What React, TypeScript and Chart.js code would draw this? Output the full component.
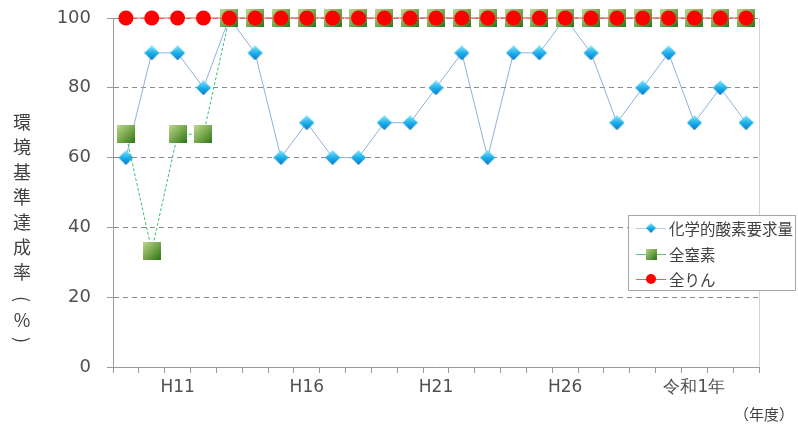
import React, { useEffect, useRef } from "react";
import { Chart, registerables } from "chart.js";

Chart.register(...registerables);

const categories = [
  "H9", "H10", "H11", "H12", "H13", "H14", "H15", "H16", "H17", "H18",
  "H19", "H20", "H21", "H22", "H23", "H24", "H25", "H26", "H27", "H28",
  "H29", "H30", "令和1年", "R2", "R3",
];
const shownTickLabels = ["H11", "H16", "H21", "H26", "令和1年"];
const codValues = [60, 90, 90, 80, 100, 90, 60, 70, 60, 60, 70, 70, 80, 90, 60, 90, 90, 100, 90, 70, 80, 90, 70, 80, 70];
const tnValues = [66.7, 33.3, 66.7, 66.7, 100, 100, 100, 100, 100, 100, 100, 100, 100, 100, 100, 100, 100, 100, 100, 100, 100, 100, 100, 100, 100];
const tpValues = [100, 100, 100, 100, 100, 100, 100, 100, 100, 100, 100, 100, 100, 100, 100, 100, 100, 100, 100, 100, 100, 100, 100, 100, 100];
const seriesNames = ["化学的酸素要求量", "全窒素", "全りん"];
const yTitleChars = ["環", "境", "基", "準", "達", "成", "率", "(", "%", ")"];
const xTitle = "（年度）";

function makeSquare(size: number) {
  const c = document.createElement("canvas");
  c.width = size;
  c.height = size;
  const g = c.getContext("2d")!;
  const grad = g.createLinearGradient(0, 0, size, size);
  grad.addColorStop(0, "#bcd88e");
  grad.addColorStop(0.5, "#7aa84e");
  grad.addColorStop(1, "#2a7418");
  g.fillStyle = grad;
  g.fillRect(0, 0, size, size);
  return c;
}

function makeDiamond(size: number) {
  const c = document.createElement("canvas");
  c.width = size;
  c.height = size;
  const g = c.getContext("2d")!;
  const grad = g.createLinearGradient(0, 0, 0, size);
  grad.addColorStop(0, "#86e6ff");
  grad.addColorStop(0.5, "#1fb0ea");
  grad.addColorStop(1, "#0678cc");
  g.fillStyle = grad;
  const h = size / 2;
  g.beginPath();
  g.moveTo(h, 0);
  g.lineTo(size, h);
  g.lineTo(h, size);
  g.lineTo(0, h);
  g.closePath();
  g.fill();
  return c;
}

export default function App() {
  const ref = useRef<HTMLCanvasElement | null>(null);

  useEffect(() => {
    document.body.style.margin = "0";
    const canvas = ref.current;
    if (!canvas) return;
    const square = makeSquare(18);
    const diamond = makeDiamond(15);
    const squareSmall = makeSquare(11);
    const diamondSmall = makeDiamond(10);

    const overlay = {
      id: "overlay",
      beforeDatasetsDraw(chart: any) {
        const { ctx, chartArea } = chart;
        ctx.save();
        ctx.strokeStyle = "#d4d4d4";
        ctx.lineWidth = 1;
        ctx.beginPath();
        ctx.moveTo(Math.round(chartArea.right) + 0.5, chartArea.top);
        ctx.lineTo(Math.round(chartArea.right) + 0.5, chartArea.bottom);
        ctx.stroke();
        ctx.restore();
      },
      afterDraw(chart: any) {
        const { ctx } = chart;
        ctx.save();
        ctx.fillStyle = "#404040";
        ctx.font = '18px "Noto Sans CJK JP"';
        ctx.textAlign = "center";
        ctx.textBaseline = "middle";
        const ys = [122, 147, 172, 197, 222, 247, 272, 299, 320, 340];
        yTitleChars.forEach((ch, i) => {
          if (ch === "(" || ch === ")") {
            ctx.save();
            ctx.translate(22, ys[i]);
            ctx.rotate(Math.PI / 2);
            ctx.fillText(ch, 0, 0);
            ctx.restore();
          } else {
            ctx.fillText(ch, 22, ys[i]);
          }
        });
        ctx.font = '15px "Noto Sans CJK JP"';
        ctx.textAlign = "center";
        ctx.fillText(xTitle, 764, 414);

        const bx = 628.5, by = 215.5, bw = 167, bh = 75;
        ctx.fillStyle = "#ffffff";
        ctx.fillRect(bx, by, bw, bh);
        ctx.strokeStyle = "#a6a6a6";
        ctx.lineWidth = 1;
        ctx.strokeRect(bx, by, bw, bh);
        const rows = [228, 254, 279];
        const lineColors = ["#b8cce8", "#5cc47a", "#ff5a5a"];
        rows.forEach((ry, i) => {
          ctx.strokeStyle = lineColors[i];
          ctx.lineWidth = 1;
          ctx.beginPath();
          ctx.moveTo(636, ry + 0.5);
          ctx.lineTo(666, ry + 0.5);
          ctx.stroke();
          if (i === 0) ctx.drawImage(diamondSmall, 651 - 5, ry - 5);
          else if (i === 1) ctx.drawImage(squareSmall, 651 - 5.5, ry - 5.5);
          else {
            ctx.fillStyle = "#ff0000";
            ctx.beginPath();
            ctx.arc(651, ry, 5, 0, Math.PI * 2);
            ctx.fill();
          }
          ctx.fillStyle = "#404040";
          ctx.font = '15.5px "Noto Sans CJK JP"';
          ctx.textAlign = "left";
          ctx.textBaseline = "middle";
          ctx.fillText(seriesNames[i], 669, ry + 1);
        });
        ctx.restore();
      },
    };

    const chart = new Chart(canvas, {
      type: "line",
      data: {
        labels: categories,
        datasets: [
          {
            label: seriesNames[0],
            data: codValues,
            borderColor: "#8fb0dc",
            borderWidth: 1,
            pointStyle: diamond as any,
            pointRadius: 7,
            order: 3,
            clip: 20,
          } as any,
          {
            label: seriesNames[1],
            data: tnValues,
            borderColor: "#35c070",
            borderWidth: 1,
            borderDash: [3, 2],
            pointStyle: square as any,
            pointRadius: 9,
            order: 2,
            clip: 20,
          } as any,
          {
            label: seriesNames[2],
            data: tpValues,
            borderColor: "#ff5050",
            borderWidth: 1,
            pointStyle: "circle",
            pointRadius: 7.5,
            pointBackgroundColor: "#ff0000",
            pointBorderColor: "#ff0000",
            pointBorderWidth: 0,
            order: 1,
            clip: 20,
          } as any,
        ],
      },
      options: {
        animation: false,
        responsive: false,
        maintainAspectRatio: false,
        layout: { padding: { left: 0, right: 39, top: 18, bottom: 0 } },
        plugins: {
          legend: { display: false },
          tooltip: { enabled: false },
          title: { display: false },
        },
        scales: {
          x: {
            type: "category",
            offset: true,
            grid: {
              display: true,
              drawOnChartArea: false,
              drawTicks: true,
              tickLength: 6,
              offset: true,
              color: "#9a9a9a",
            },
            border: { display: true, color: "#9a9a9a", width: 1 },
            ticks: {
              autoSkip: false,
              maxRotation: 0,
              minRotation: 0,
              padding: 4,
              color: "#505050",
              font: { family: "DejaVu Sans", size: 17 },
              callback: (_v: any, i: number) =>
                shownTickLabels.includes(categories[i]) ? categories[i] : "",
            },
            afterFit: (s: any) => {
              s.height = 60;
              s.paddingLeft = 0;
              s.paddingRight = 0;
            },
          },
          y: {
            min: 0,
            max: 100,
            grid: {
              color: (c: any) => (c.tick && c.tick.value === 0 ? "rgba(0,0,0,0)" : "#8a8a8a"),
              lineWidth: 1,
              tickLength: 6,
              tickColor: "#9a9a9a",
              tickBorderDash: [],
            } as any,
            border: { display: true, color: "#9a9a9a", width: 1, dash: [5, 4] } as any,
            ticks: {
              stepSize: 20,
              padding: 16,
              color: "#505050",
              font: { family: "DejaVu Sans", size: 18 },
            },
            afterFit: (s: any) => {
              s.width = 113;
              s.paddingTop = 0;
              s.paddingBottom = 0;
            },
          },
        },
      },
      plugins: [overlay],
    });

    return () => chart.destroy();
  }, []);

  return (
    <div style={{ width: 798, height: 427 }}>
      <canvas ref={ref} width={798} height={427} style={{ display: "block" }} />
    </div>
  );
}
